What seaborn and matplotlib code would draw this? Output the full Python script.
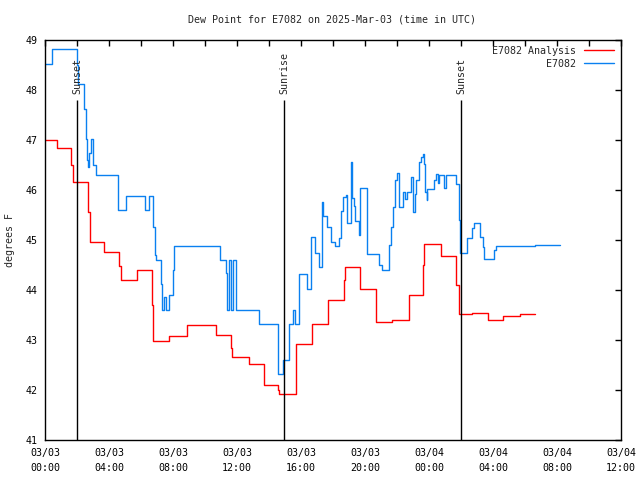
import matplotlib
matplotlib.use("Agg")
import matplotlib.pyplot as plt
import seaborn as sns
import pandas as pd

# ---- data (hours since 2025-03-03 00:00 UTC) ----
red_t = [0, 0.73, 1.65, 1.75, 2.7, 2.8, 3.7, 4.65, 4.75, 5.75, 6.69, 6.75, 7.73, 8.85, 8.9,
         10.7, 11.65, 11.7, 12.77, 13.7, 14.55, 14.6, 15.67, 16.67, 17.67, 18.7, 18.75, 19.67,
         20.7, 21.7, 22.75, 23.65, 23.7, 24.75, 25.7, 25.85, 25.9, 26.7, 27.7, 28.65, 29.7, 30.6]
red_v = [47.0, 46.84, 46.5, 46.17, 45.57, 44.96, 44.76, 44.48, 44.21, 44.41, 43.7, 42.99, 43.08,
         43.2, 43.31, 43.1, 42.85, 42.67, 42.53, 42.11, 42.0, 41.93, 42.92, 43.33, 43.8, 44.2,
         44.47, 44.03, 43.37, 43.4, 43.9, 44.5, 44.93, 44.68, 44.1, 43.7, 43.53, 43.55, 43.41,
         43.49, 43.53, 43.53]

blue_t = [0, 0.42, 2.02, 2.06, 2.46, 2.55, 2.62, 2.7, 2.78, 2.9, 3.0, 3.2, 4.54, 5.04, 6.27,
          6.52, 6.77, 6.85, 6.95, 7.23, 7.3, 7.45, 7.55, 7.77, 8.02, 8.08, 10.96, 11.3, 11.4,
          11.5, 11.65, 11.72, 11.92, 13.36, 14.54, 14.9, 15.25, 15.5, 15.65, 15.85, 16.35, 16.6,
          16.85, 17.1, 17.3, 17.35, 17.6, 17.9, 18.14, 18.4, 18.5, 18.65, 18.8, 18.9, 19.1, 19.2,
          19.3, 19.4, 19.6, 19.7, 20.1, 20.9, 21.04, 21.5, 21.6, 21.75, 21.9, 21.98, 22.1, 22.4,
          22.5, 22.6, 22.9, 23.0, 23.1, 23.2, 23.35, 23.5, 23.6, 23.7, 23.75, 23.85, 23.9, 24.3,
          24.45, 24.55, 24.65, 24.95, 25.05, 25.7, 25.85, 25.94, 26.35, 26.7, 26.83, 27.2, 27.35,
          27.45, 28.06, 28.17, 30.6, 32.2]
blue_v = [48.53, 48.83, 48.5, 48.13, 47.63, 47.03, 46.6, 46.47, 46.74, 47.03, 46.5, 46.31, 45.61,
          45.89, 45.61, 45.89, 45.27, 44.7, 44.61, 44.12, 43.61, 43.86, 43.61, 43.9, 44.41, 44.89,
          44.61, 44.35, 43.61, 44.61, 43.61, 44.61, 43.61, 43.33, 42.33, 42.61, 43.33, 43.61,
          43.33, 44.33, 44.03, 45.07, 44.75, 44.47, 45.77, 45.48, 45.27, 44.97, 44.88, 45.05,
          45.59, 45.87, 45.9, 45.34, 46.57, 45.84, 45.68, 45.39, 45.1, 46.04, 44.73, 44.5, 44.41,
          44.9, 45.27, 45.67, 46.2, 46.35, 45.67, 45.97, 45.82, 45.97, 46.27, 45.57, 45.93, 46.2,
          46.57, 46.67, 46.73, 46.53, 45.97, 45.8, 46.03, 46.2, 46.33, 46.15, 46.31, 46.05, 46.31,
          46.13, 45.4, 44.75, 45.05, 45.25, 45.34, 45.07, 44.87, 44.62, 44.8, 44.89, 44.91, 44.91]

sun_t = [2.0, 14.94, 26.0]
sun_labels = ["Sunset", "Sunrise", "Sunset"]

xtick_pos = [0, 4, 8, 12, 16, 20, 24, 28, 32, 36]
xtick_labels = ["03/03\n00:00", "03/03\n04:00", "03/03\n08:00", "03/03\n12:00", "03/03\n16:00",
                "03/03\n20:00", "03/04\n00:00", "03/04\n04:00", "03/04\n08:00", "03/04\n12:00"]
ytick_pos = [41, 42, 43, 44, 45, 46, 47, 48, 49]

title = "Dew Point for E7082 on 2025-Mar-03 (time in UTC)"
ylabel = "degrees F"
series_names = ["E7082 Analysis", "E7082"]
colors = ["#ff0000", "#0a80f0"]

# ---- plot ----
sns.set_theme(style="white")
plt.rcParams["font.family"] = ["DejaVu Sans Mono"]
fs = 7.2

fig = plt.figure(figsize=(6.4, 4.8), dpi=100)
ax = fig.add_axes([45/640, 40/480, 576/640, 400/480])

df_red = pd.DataFrame({"t": red_t, "v": red_v})
df_blue = pd.DataFrame({"t": blue_t, "v": blue_v})
sns.lineplot(data=df_red, x="t", y="v", ax=ax, color=colors[0], lw=1.0,
             drawstyle="steps-post", estimator=None, label=series_names[0])
sns.lineplot(data=df_blue, x="t", y="v", ax=ax, color=colors[1], lw=1.0,
             drawstyle="steps-post", estimator=None, label=series_names[1])

for t, lab in zip(sun_t, sun_labels):
    ax.vlines(t, 41, 47.8, color="black", lw=1.0)
    ax.text(t, 47.92, lab, rotation=90, ha="center", va="bottom", fontsize=fs)

ax.set_xlim(0, 36)
ax.set_ylim(41, 49)
ax.set_xticks(xtick_pos)
ax.set_xticklabels(xtick_labels, fontsize=fs, linespacing=1.6)
ax.set_xticks([2, 6, 10, 14, 18, 22, 26, 30, 34], minor=True)
ax.set_yticks(ytick_pos)
ax.set_yticklabels([str(v) for v in ytick_pos], fontsize=fs)
ax.tick_params(axis="both", which="both", direction="in", top=True, right=True,
               length=4, width=1, color="black", labelcolor="black")
ax.tick_params(axis="x", which="major", pad=6)
ax.tick_params(axis="y", which="major", pad=5)
ax.set_xlabel("")
ax.set_ylabel("")
for s in ax.spines.values():
    s.set_color("black")
    s.set_linewidth(1)

leg = ax.legend(loc="upper right", frameon=False, markerfirst=False, fontsize=fs,
                handlelength=3.0, handletextpad=0.8, labelspacing=0.3,
                borderaxespad=0.2, bbox_to_anchor=(0.998, 1.0))

fig.text(332/640, 1 - 19/480, title, ha="center", va="center", fontsize=fs)
fig.text(10/640, 0.5, ylabel, rotation=90, ha="center", va="center", fontsize=fs)

fig.savefig("out.png", dpi=100)
